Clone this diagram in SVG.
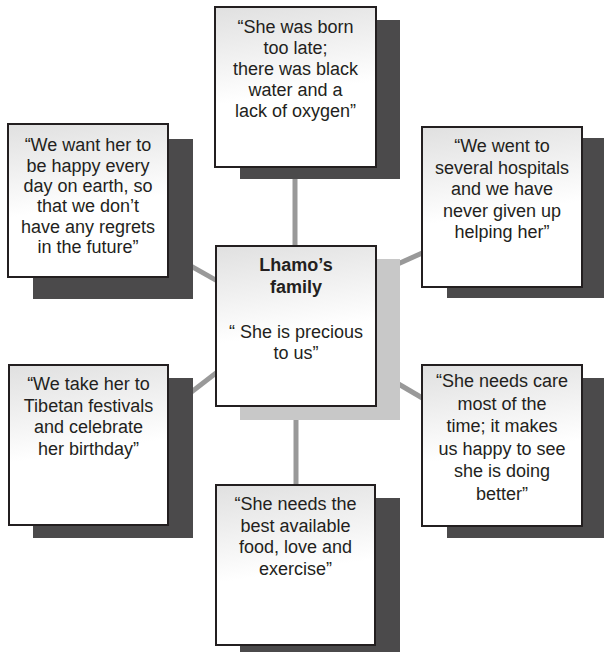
<svg xmlns="http://www.w3.org/2000/svg" width="604" height="652" viewBox="0 0 604 652">
<defs>
<linearGradient id="g" x1="0" y1="0" x2="0.15" y2="1">
<stop offset="0" stop-color="#e0e0e0"/>
<stop offset="0.6" stop-color="#ffffff"/>
<stop offset="1" stop-color="#ffffff"/>
</linearGradient>
</defs>
<style>
.sh{fill:#4b4a4b}
.shl{fill:#c8c8c8}
.bx{fill:url(#g);stroke:#231f20;stroke-width:2}
.t{font-family:"Liberation Sans",Arial,sans-serif;font-size:18px;fill:#231f20;text-anchor:middle}
.b{font-weight:bold}
.c{stroke:#999999;stroke-width:5;fill:none}
</style>
<rect width="604" height="652" fill="#ffffff"/>
<g id="connectors">
<line class="c" x1="295" y1="170" x2="295" y2="250"/>
<line class="c" x1="296" y1="400" x2="296" y2="490"/>
<line class="c" x1="150" y1="243" x2="260" y2="305"/>
<line class="c" x1="350" y1="285.5" x2="470" y2="231.5"/>
<line class="c" x1="150" y1="424" x2="260" y2="339"/>
<line class="c" x1="350" y1="355.5" x2="470" y2="426"/>
</g>
<g id="top">
<rect class="sh" x="240" y="20" width="160" height="159"/>
<rect class="bx" x="215" y="7" width="161" height="160"/>
<text class="t" x="295.5" y="33">“She was born</text>
<text class="t" x="295.5" y="54">too late;</text>
<text class="t" x="295.5" y="75">there was black</text>
<text class="t" x="295.5" y="96">water and a</text>
<text class="t" x="295.5" y="117">lack of oxygen”</text>
</g>
<g id="top-left">
<rect class="sh" x="33" y="139" width="160" height="160"/>
<rect class="bx" x="8" y="124" width="160" height="153"/>
<text class="t" x="88" y="151">“We want her to</text>
<text class="t" x="88" y="171.5">be happy every</text>
<text class="t" x="88" y="192">day on earth, so</text>
<text class="t" x="88" y="212">that we don’t</text>
<text class="t" x="88" y="232.5">have any regrets</text>
<text class="t" x="88" y="253">in the future”</text>
</g>
<g id="top-right">
<rect class="sh" x="447" y="138" width="157" height="160"/>
<rect class="bx" x="422" y="127" width="160" height="160"/>
<text class="t" x="502" y="152">“We went to</text>
<text class="t" x="502" y="173.5">several hospitals</text>
<text class="t" x="502" y="195">and we have</text>
<text class="t" x="502" y="216.5">never given up</text>
<text class="t" x="502" y="238">helping her”</text>
</g>
<g id="center">
<rect class="shl" x="240" y="259" width="160" height="161"/>
<rect class="bx" x="216" y="246" width="160" height="160"/>
<text class="t b" x="296" y="271">Lhamo’s</text>
<text class="t b" x="296" y="293">family</text>
<text class="t" x="296" y="338">“ She is precious</text>
<text class="t" x="296" y="359">to us”</text>
</g>
<g id="bottom-left">
<rect class="sh" x="33" y="378" width="160" height="160"/>
<rect class="bx" x="9" y="365" width="159" height="160"/>
<text class="t" x="88.5" y="390">“We take her to</text>
<text class="t" x="88.5" y="411.5">Tibetan festivals</text>
<text class="t" x="88.5" y="433">and celebrate</text>
<text class="t" x="88.5" y="454.5">her birthday”</text>
</g>
<g id="bottom-right">
<rect class="sh" x="447" y="378" width="157" height="160"/>
<rect class="bx" x="422" y="365" width="160" height="161"/>
<text class="t" x="502" y="387">“She needs care</text>
<text class="t" x="502" y="410">most of the</text>
<text class="t" x="502" y="432">time; it makes</text>
<text class="t" x="502" y="455">us happy to see</text>
<text class="t" x="502" y="477">she is doing</text>
<text class="t" x="502" y="500">better”</text>
</g>
<g id="bottom">
<rect class="sh" x="240" y="498" width="160" height="160"/>
<rect class="bx" x="216" y="485" width="159" height="160"/>
<text class="t" x="295.5" y="510">“She needs the</text>
<text class="t" x="295.5" y="532">best available</text>
<text class="t" x="295.5" y="553">food, love and</text>
<text class="t" x="295.5" y="575">exercise”</text>
</g>
</svg>
